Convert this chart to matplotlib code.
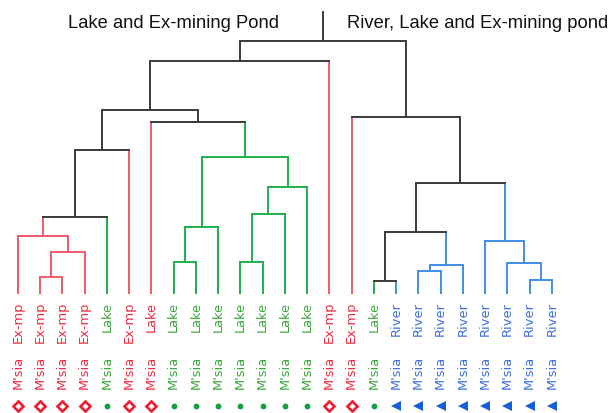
import matplotlib
matplotlib.use("Agg")
import matplotlib.pyplot as plt
import numpy as np

# ---- data ----
habitats = ['Ex-mp', 'Ex-mp', 'Ex-mp', 'Ex-mp', 'Lake', 'Ex-mp', 'Lake',
            'Lake', 'Lake', 'Lake', 'Lake', 'Lake', 'Lake', 'Lake',
            'Ex-mp', 'Ex-mp', 'Lake',
            'River', 'River', 'River', 'River', 'River', 'River', 'River', 'River']
countries = ["M'sia"] * 25
leaf_groups = ['r', 'r', 'r', 'r', 'g', 'r', 'r',
               'g', 'g', 'g', 'g', 'g', 'g', 'g',
               'r', 'r', 'g',
               'b', 'b', 'b', 'b', 'b', 'b', 'b', 'b']
# linkage: (left, right, height); new node ids start at len(leaves)
merge_left = [1, 25, 0, 27, 28, 7, 30, 10, 32, 33, 31, 6, 29, 37,
              16, 18, 40, 39, 23, 22, 21, 42, 15, 38]
merge_right = [2, 3, 26, 4, 5, 8, 9, 11, 12, 13, 34, 35, 36, 14,
               17, 19, 20, 41, 24, 43, 44, 45, 46, 47]
merge_height = [6.7, 16.6, 22.9, 30.4, 56.9, 12.6, 26.5, 12.6, 31.6, 42.3, 54.2, 68.0, 72.7, 92.1,
                5.1, 9.1, 11.5, 24.5, 5.5, 12.3, 20.9, 43.9, 70.0, 100.0]
root_stem_top = 111.5
left_title = "Lake and Ex-mining Pond"
right_title = "River, Lake and Ex-mining pond"

# ---- style ----
col = {'r': '#f2596d', 'g': '#1db04b', 'b': '#3f8fe6', 'k': '#3a3a3a'}
mk = {'r': dict(marker='D', ms=5.0, mfc='white', mec='#ee1c2e', mew=1.9),
      'g': dict(marker='o', ms=4.2, mfc='#14a03c', mec='#14a03c', mew=0),
      'b': dict(marker='<', ms=7.5, mfc='#1560d8', mec='#1560d8', mew=0)}
txtcol = {'r': '#f0283f', 'g': '#3aa83a', 'b': '#3d6fe0'}

n = len(habitats)
fig = plt.figure(figsize=(6.10, 4.14), dpi=100)
ax = fig.add_axes([0, 0, 1, 1])
ax.set_xlim(-0.809, 26.607)
ax.set_ylim(-47.04, 116.6)
ax.axis('off')

xpos = {i: float(i) for i in range(n)}
hpos = {i: 0.0 for i in range(n)}
ncol = {i: leaf_groups[i] for i in range(n)}
members = {i: {i} for i in range(n)}
lw = 1.4
for k, (a, b, h) in enumerate(zip(merge_left, merge_right, merge_height)):
    node = n + k
    members[node] = members[a] | members[b]
    gs = {leaf_groups[m] for m in members[node]}
    ncol[node] = gs.pop() if len(gs) == 1 else 'k'
    xpos[node] = (xpos[a] + xpos[b]) / 2
    hpos[node] = h
    for c in (a, b):
        ax.plot([xpos[c], xpos[c]], [hpos[c], h], color=col[ncol[c]], lw=lw,
                solid_capstyle='butt')
    ax.plot([xpos[a], xpos[b]], [h, h], color=col[ncol[node]], lw=lw,
            solid_capstyle='projecting')

root = n + len(merge_height) - 1
ax.plot([xpos[root], xpos[root]], [hpos[root], root_stem_top], color=col['k'], lw=lw)

ax.annotate(left_title, (xpos[root], 105.6), xytext=(-44, 0), textcoords='offset pixels',
            ha='right', va='baseline', fontsize=13.2, family='Liberation Sans', color='#111111')
ax.annotate(right_title, (xpos[root], 105.6), xytext=(24, 0), textcoords='offset pixels',
            ha='left', va='baseline', fontsize=13.2, family='Liberation Sans', color='#111111')

for i in range(n):
    g = leaf_groups[i]
    ax.text(i, -2.6, habitats[i], rotation=90, ha='center', va='top', fontsize=9.4,
            color=txtcol[g], family='DejaVu Sans')
    ax.text(i, -24.0, countries[i], rotation=90, ha='center', va='top', fontsize=9.4,
            color=txtcol[g], family='DejaVu Sans')
    ax.plot([i], [-44.3], linestyle='none', **mk[g])

fig.savefig('out.png', dpi=100)
